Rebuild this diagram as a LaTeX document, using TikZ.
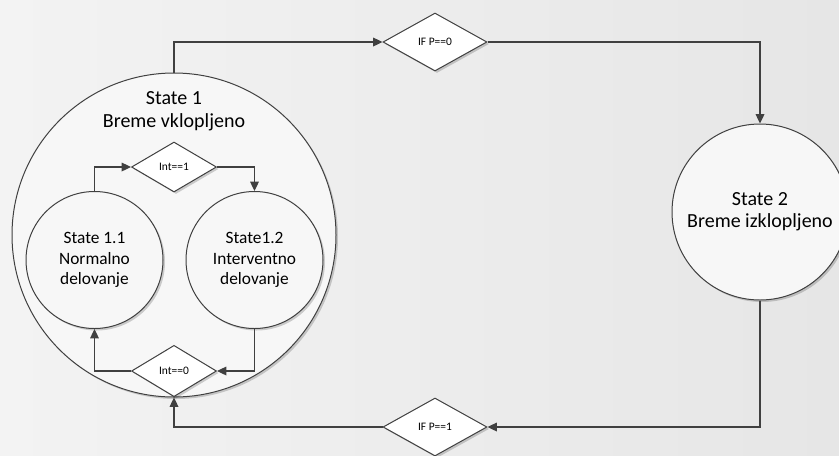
\documentclass[tikz,border=0pt]{standalone}
\usepackage{fontspec}
\setmainfont{Carlito}
\usetikzlibrary{shapes.geometric,arrows.meta,shadows}
\definecolor{ln}{HTML}{404040}
\definecolor{bgl}{HTML}{F3F3F3}
\definecolor{bgr}{HTML}{E6E6E6}
\definecolor{cfill}{HTML}{F7F7F7}
\begin{document}
\begin{tikzpicture}[x=0.75pt,y=-0.75pt,
  shd/.style={drop shadow={shadow xshift=1.5pt,shadow yshift=-1.5pt,opacity=0.18,fill=black}},
  bigstate/.style={circle,draw=ln,line width=0.75pt,fill=cfill,inner sep=0pt,shd},
  statebox/.style={circle,draw=ln,line width=0.75pt,fill=cfill,inner sep=0pt,align=center,shd,
    font=\fontsize{13pt}{15.5pt}\selectfont},
  cond/.style={diamond,draw=ln,line width=0.75pt,fill=white,inner sep=0pt,aspect=2,shd,
    font=\fontsize{8.6pt}{10pt}\selectfont},
  conn/.style={draw=ln,line width=0.9pt,-{Triangle[length=7pt,width=6.5pt]}},
  bigtxt/.style={align=center,font=\fontsize{15pt}{17.25pt}\selectfont}
]
\useasboundingbox (0,0) rectangle (839,455);
\shade[left color=bgl,right color=bgr] (0,0) rectangle (839,455);

% State 1 (outer)
\node[bigstate,minimum size=243pt] (s1) at (174,235) {};
\node[bigtxt] (s1t) at (174,111.5) {State 1\\Breme vklopljeno};

% inner states
\node[statebox,minimum size=102.75pt] (s11) at (94.5,260) {State 1.1\\Normalno\\delovanje};
\node[statebox,minimum size=102.75pt] (s12) at (254.5,260) {State1.2\\Interventno\\delovanje};

% inner conditions
\node[cond,minimum width=63.75pt,minimum height=37.5pt] (i1) at (174,167) {Int==1};
\node[cond,minimum width=63.75pt,minimum height=38.5pt] (i0) at (174,371) {Int==0};

% State 2
\node[statebox,minimum size=132pt,font=\fontsize{15pt}{16.5pt}\selectfont] (s2) at (760,212) {State 2\\Breme izklopljeno};

% outer conditions
\node[cond,minimum width=78pt,minimum height=43.5pt] (p0) at (435,42) {IF P==0};
\node[cond,minimum width=78pt,minimum height=43.5pt] (p1) at (435,427) {IF P==1};

% connectors
\draw[conn] (s11.north) |- (i1.west);
\draw[conn] (i1.east) -| (s12.north);
\draw[conn] (s12.south) |- (i0.east);
\draw[conn] (i0.west) -| (s11.south);
\draw[conn] (s1.north) |- (p0.west);
\draw[conn] (p0.east) -| (s2.north);
\draw[conn] (s2.south) |- (p1.east);
\draw[conn] (p1.west) -| (s1.south);
\end{tikzpicture}
\end{document}
